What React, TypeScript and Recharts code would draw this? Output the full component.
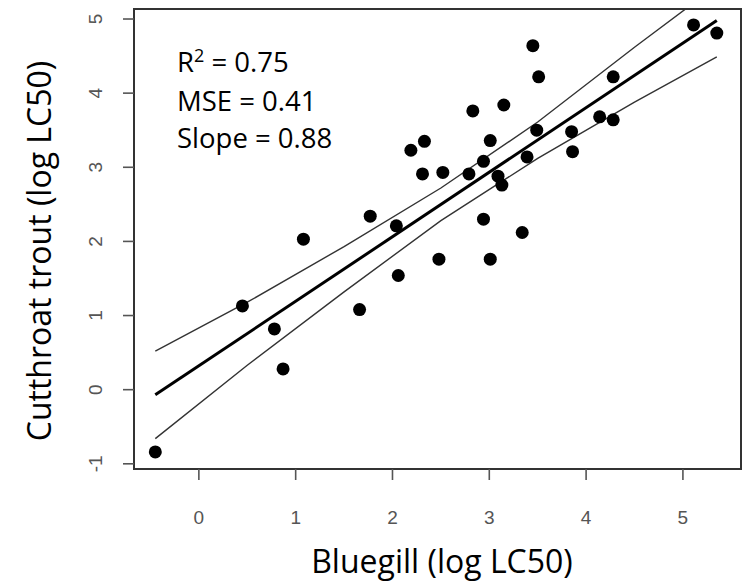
import React from "react";
import { ComposedChart, XAxis, YAxis, Scatter, Line, ReferenceArea } from "recharts";

// Bluegill vs cutthroat trout, log LC50 values
const bluegill = [
  -0.45, 0.45, 0.78, 0.87, 1.08, 1.66, 1.77, 2.04, 2.06, 2.19, 2.33, 2.31,
  2.48, 2.52, 2.79, 2.83, 2.94, 2.94, 3.01, 3.01, 3.09, 3.13, 3.15, 3.34,
  3.39, 3.45, 3.49, 3.51, 3.85, 3.86, 4.14, 4.28, 4.28, 5.11, 5.35,
];
const cutthroat = [
  -0.84, 1.13, 0.82, 0.28, 2.03, 1.08, 2.34, 2.21, 1.54, 3.23, 3.35, 2.91,
  1.76, 2.93, 2.91, 3.76, 3.08, 2.3, 3.36, 1.76, 2.88, 2.76, 3.84, 2.12,
  3.14, 4.64, 3.5, 4.22, 3.48, 3.21, 3.68, 4.22, 3.64, 4.92, 4.81,
];

// regression line and its confidence band
const fitX = [-0.45, 5.35];
const fitY = [-0.07, 4.98];
const bandX = [-0.45, 0.5, 1.5, 2.5, 3.5, 4.5, 5.35];
const upperY = [0.52, 1.18, 1.93, 2.72, 3.61, 4.62, 5.45];
const lowerY = [-0.66, 0.33, 1.32, 2.28, 3.12, 3.88, 4.49];

const xTicks = [0, 1, 2, 3, 4, 5];
const yTicks = [-1, 0, 1, 2, 3, 4, 5];

const points = bluegill.map((x, i) => ({ x, y: cutthroat[i] }));
const fit = fitX.map((x, i) => ({ x, y: fitY[i] }));
const upper = bandX.map((x, i) => ({ x, y: upperY[i] }));
const lower = bandX.map((x, i) => ({ x, y: lowerY[i] }));

const TICK_FONT = "'Liberation Sans', Arial, sans-serif";
const TEXT_FONT = "'Open Sans', sans-serif";

function XTick({ x, y, payload }: any) {
  return (
    <text x={x} y={y} dy={14} textAnchor="middle" fontSize={19} fill="#555" fontFamily={TICK_FONT}>
      {payload.value}
    </text>
  );
}

function YTick({ x, y, payload }: any) {
  return (
    <text
      x={x}
      y={y}
      transform={`rotate(-90 ${x} ${y})`}
      textAnchor="middle"
      fontSize={19}
      fill="#555"
      fontFamily={TICK_FONT}
    >
      {payload.value}
    </text>
  );
}

const Dot = (p: any) => <circle cx={p.cx} cy={p.cy} r={6.5} fill="#000" />;

export default function App() {
  const xMin = -0.67;
  const xMax = 5.6;
  const yMin = -1.07;
  const yMax = 5.135;

  return (
    <div style={{ position: "absolute", left: 0, top: 0, width: 749, height: 582, background: "#fff" }}>
      <ComposedChart width={749} height={582} margin={{ top: 9, right: 8, bottom: 0, left: 0 }}>
        <XAxis
          type="number"
          dataKey="x"
          domain={[xMin, xMax]}
          ticks={xTicks}
          allowDataOverflow
          height={113}
          axisLine={false}
          tickSize={11}
          tickMargin={30}
          tickLine={{ stroke: "#555", strokeWidth: 1.6 }}
          tick={<XTick />}
        />
        <YAxis
          type="number"
          dataKey="y"
          domain={[yMin, yMax]}
          ticks={yTicks}
          allowDataOverflow
          width={134}
          axisLine={false}
          tickSize={11}
          tickMargin={21}
          tickLine={{ stroke: "#555", strokeWidth: 1.6 }}
          tick={<YTick />}
        />
        <ReferenceArea x1={xMin} x2={xMax} y1={yMin} y2={yMax} fill="none" stroke="#333" strokeWidth={2} />
        <Line data={upper} dataKey="y" type="linear" stroke="#333" strokeWidth={1.4} dot={false} isAnimationActive={false} />
        <Line data={lower} dataKey="y" type="linear" stroke="#333" strokeWidth={1.4} dot={false} isAnimationActive={false} />
        <Line data={fit} dataKey="y" type="linear" stroke="#000" strokeWidth={3} dot={false} isAnimationActive={false} />
        <Scatter data={points} dataKey="y" fill="#000" shape={<Dot />} isAnimationActive={false} />
      </ComposedChart>
      <svg width={749} height={582} style={{ position: "absolute", left: 0, top: 0, pointerEvents: "none" }}>
        <g fontFamily={TEXT_FONT} fill="#000">
          <text x={177} y={72} fontSize={27.5}>
            R<tspan dy={-10} fontSize={18}>2</tspan>
            <tspan dy={10}> = 0.75</tspan>
          </text>
          <text x={177} y={111} fontSize={27.5}>MSE = 0.41</text>
          <text x={177} y={148} fontSize={27.5}>Slope = 0.88</text>
          <text x={442} y={573} fontSize={32} textAnchor="middle">Bluegill (log LC50)</text>
          <text transform="translate(51 251) rotate(-90)" fontSize={32} textAnchor="middle">
            Cutthroat trout (log LC50)
          </text>
        </g>
      </svg>
    </div>
  );
}
